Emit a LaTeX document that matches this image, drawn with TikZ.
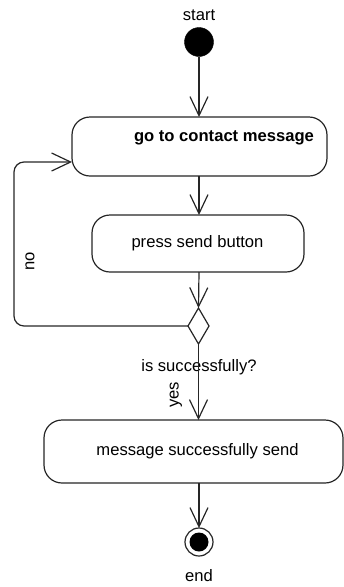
\documentclass[tikz,border=0pt]{standalone}
\usepackage{fontspec}
\setmainfont{Liberation Sans}
\usetikzlibrary{arrows.meta,shapes.geometric}
\begin{document}
\begin{tikzpicture}[x=1pt,y=-1pt,
  every node/.style={font=\fontsize{16.6}{19}\selectfont, inner sep=0pt, outer sep=0pt},
  act/.style={draw=black!85, line width=1.2pt, rounded corners=18pt, fill=white},
  flow/.style={draw=black!85, line width=1.2pt, -{Straight Barb[length=19pt,width=18pt,line width=1.2pt]}},
  lbl/.style={text=black}]
\useasboundingbox (0,0) rectangle (344,587);
% start
\node[lbl] (startlbl) at (199,15) {start};
\node[circle, fill=black, draw=black, minimum size=29pt] (start) at (199,42) {};
% activity 1
\node[act, minimum width=255pt, minimum height=59pt] (a1) at (199.5,146.5) {};
\node[lbl, font=\fontsize{16.6}{19}\selectfont\bfseries] (t1) at (224,138) {go to contact message};
% activity 2
\node[act, minimum width=212pt, minimum height=57pt] (a2) at (198,243.5) {};
\node[lbl] (t2) at (197.5,243) {press send button};
% decision
\node[diamond, draw=black!85, line width=1.2pt, fill=white, minimum width=21pt, minimum height=36pt] (dec) at (198.5,326) {};
\node[lbl] (declbl) at (199,367) {is successfully?};
% activity 3
\node[act, minimum width=299pt, minimum height=63pt] (a3) at (193.5,451.5) {};
\node[lbl] (t3) at (197.5,451) {message successfully send};
% end
\node[circle, draw=black!85, line width=1.2pt, fill=white, minimum size=28pt] (endc) at (199,542) {};
\node[circle, fill=black, minimum size=19pt] (endin) at (199,542) {};
\node[lbl] (endlbl) at (199,576) {end};
% connectors
\draw[flow] (start.south) -- (a1.north -| start.south);
\draw[flow] (a1.south -| start.south) -- (a2.north -| start.south);
\draw[flow] (a2.south -| start.south) -- (dec.north);
\coordinate (c1) at (14,326);
\coordinate (c2) at (14,162);
\draw[flow, rounded corners=10pt] (dec.west) -- (c1) -- (c2) -- (a1.west |- c2);
\node[lbl, rotate=90] (nolbl) at (30,261) {no};
\draw[flow] (dec.south) -- (a3.north -| dec.south);
\node[lbl, rotate=90] (yeslbl) at (176,395) {yes};
\draw[flow] (a3.south -| endc.north) -- (endc.north);
\end{tikzpicture}
\end{document}
